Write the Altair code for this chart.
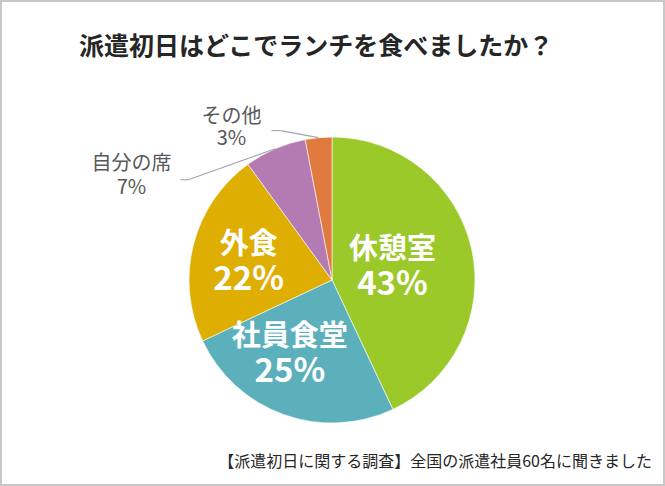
import altair as alt
import pandas as pd

# ---- data ----
categories = ["休憩室", "社員食堂", "外食", "自分の席", "その他"]
values = [43, 25, 22, 7, 3]
slice_colors = ["#9BC92A", "#5BB0BB", "#DFAE02", "#B47BB3", "#E07A3E"]
title_text = "派遣初日はどこでランチを食べましたか？"
note_text = "【派遣初日に関する調査】全国の派遣社員60名に聞きました"

df = pd.DataFrame({"name": categories, "value": values})
dummy = pd.DataFrame({"a": [0]})

R = 143
FONT = "Noto Sans CJK JP"

base = (
    alt.Chart(df)
    .transform_window(idx="row_number()")
    .transform_joinaggregate(total="sum(value)")
    .transform_window(cum="sum(value)", sort=[alt.SortField("idx")], frame=[None, 0])
    .transform_calculate(mid="2*PI*(datum.cum - datum.value/2)/datum.total")
    .transform_calculate(
        ex=f"{R} + {R}*sin(datum.mid)",
        ey=f"{R} - {R}*cos(datum.mid)",
        pct="datum.value + '%'",
    )
)

theta = alt.Theta("value:Q", stack=True)
order = alt.Order("idx:Q")

pie = base.mark_arc(outerRadius=R, stroke="white", strokeWidth=0.6).encode(
    theta=theta,
    order=order,
    color=alt.Color("name:N", scale=alt.Scale(domain=categories, range=slice_colors), legend=None),
)


def one_line(name, field, radius, dx, dy, size, color, weight):
    return base.mark_text(
        radius=radius, dx=dx, dy=dy, fontSize=size, color=color, fontWeight=weight,
        font=FONT, align="center", baseline="middle",
    ).encode(
        theta=theta,
        order=order,
        detail="name:N",
        text=alt.condition(alt.datum.name == name, alt.Text(f"{field}:N"), alt.value("")),
    )


def slice_label(name, radius, dx, dy, size1, size2, color, weight, gap):
    return [
        one_line(name, "name", radius, dx, dy - gap / 2, size1, color, weight),
        one_line(name, "pct", radius, dx, dy + gap / 2, size2, color, weight),
    ]


labels = (
    slice_label("休憩室", 62, 0, 1, 29, 33, "white", "bold", 35)
    + slice_label("社員食堂", 86, -13, -6, 29, 33, "white", "bold", 35)
    + slice_label("外食", 85, -1, 4, 29, 33, "white", "bold", 35)
    + slice_label("その他", 165, -85, 12, 20, 20, "#595959", "normal", 22)
    + slice_label("自分の席", 160, -137, 43, 20, 20, "#595959", "normal", 24)
)


def leader(name, elbow_dx, elbow_dy, stub):
    b = base.transform_filter(alt.datum.name == name).transform_calculate(
        bx=f"datum.ex + ({elbow_dx})", by=f"datum.ey + ({elbow_dy})"
    ).transform_calculate(sx=f"datum.bx - {stub}")
    diag = b.mark_rule(color="#a6a6a6", strokeWidth=1.1).encode(
        x=alt.X("bx:Q", scale=None, axis=None), y=alt.Y("by:Q", scale=None, axis=None),
        x2="ex:Q", y2="ey:Q",
    )
    stub_rule = b.mark_rule(color="#a6a6a6", strokeWidth=1.1).encode(
        x=alt.X("sx:Q", scale=None, axis=None), y=alt.Y("by:Q", scale=None, axis=None),
        x2="bx:Q",
    )
    return [diag, stub_rule]


leaders = leader("その他", -38, -7, 9) + leader("自分の席", -87, 31, 8)

border = alt.Chart(dummy).mark_rect(fillOpacity=0, stroke="#c8c8c8", strokeWidth=2).encode(
    x=alt.value(-188), x2=alt.value(475), y=alt.value(-136), y2=alt.value(348)
)

title = alt.Chart(dummy).mark_text(
    fontSize=25, font=FONT, fontWeight="bold", color="#262626", align="center", baseline="middle"
).encode(x=alt.value(127), y=alt.value(-90), text=alt.value(title_text))

note = alt.Chart(dummy).mark_text(
    fontSize=16, font=FONT, color="#262626", align="right", baseline="middle"
).encode(x=alt.value(463), y=alt.value(325), text=alt.value(note_text))

chart = alt.layer(border, pie, *leaders, *labels, title, note).properties(
    width=2 * R,
    height=2 * R,
    padding={"left": 189, "top": 137, "right": 190, "bottom": 63},
    autosize=alt.AutoSizeParams(type="none"),
    background="white",
).configure_view(stroke=None)

chart.save("out.html", embed_options={"renderer": "svg", "actions": False})
